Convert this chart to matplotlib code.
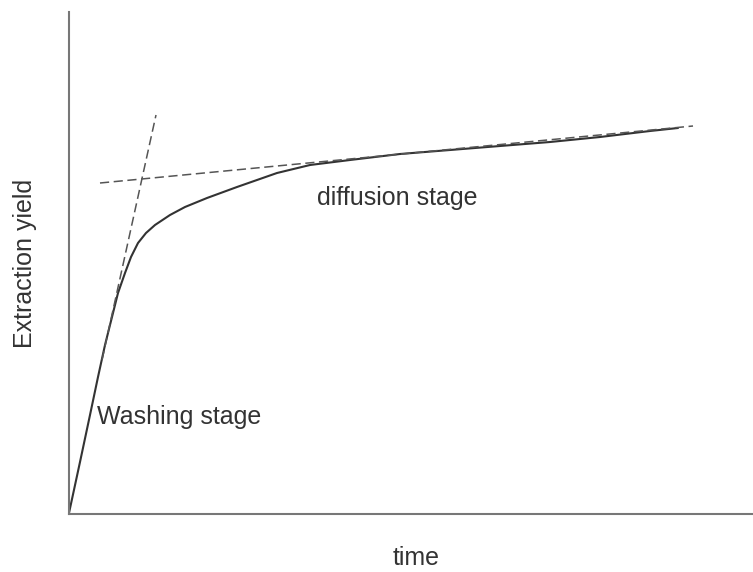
import matplotlib
matplotlib.use("Agg")
import matplotlib.pyplot as plt

plt.rcParams['font.family'] = ['Liberation Sans', 'DejaVu Sans']

# extraction curve (arbitrary units)
time_vals = [0, 11, 21, 29, 36, 43, 49, 56, 62, 69, 77, 86, 101, 116, 138,
             168, 208, 241, 281, 331, 381, 431, 481, 531, 581, 609]
yield_vals = [1, 52, 99, 137, 169, 197, 221, 241, 257, 271, 281, 289, 299,
              307, 316, 327, 341, 349, 354, 360, 364, 368, 372, 377, 383, 386]

# tangent lines
wash_x = [33, 87]
wash_y = [154, 399]
diff_x = [31, 624]
diff_y = [331, 388]

fig = plt.figure(figsize=(7.53, 5.72), dpi=100)
ax = fig.add_axes([69 / 753, 58 / 572, 684 / 753, 502 / 572])
ax.set_xlim(0, 684)
ax.set_ylim(0, 502)

ax.plot(time_vals, yield_vals, color='#333333', lw=1.5, solid_capstyle='round')
ax.plot(wash_x, wash_y, color='#555555', lw=1.1, dashes=(6, 3))
ax.plot(diff_x, diff_y, color='#555555', lw=1.1, dashes=(6, 3))

ax.text(28, 97, 'Washing stage', fontsize=18, color='#333333', va='center')
ax.text(248, 316, 'diffusion stage', fontsize=18, color='#333333', va='center')

for side in ['top', 'right']:
    ax.spines[side].set_visible(False)
for side in ['left', 'bottom']:
    ax.spines[side].set_color('#777777')
    ax.spines[side].set_linewidth(1.5)
ax.set_xticks([])
ax.set_yticks([])

ax.set_xlabel('time', fontsize=18, color='#333333')
ax.xaxis.set_label_coords(0.507, -0.064)
ax.set_ylabel('Extraction yield', fontsize=18, color='#333333', labelpad=23)

fig.savefig('out.png', dpi=100)
